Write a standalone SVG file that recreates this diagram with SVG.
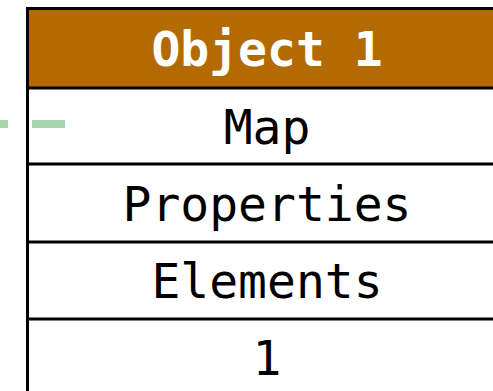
<svg xmlns="http://www.w3.org/2000/svg" width="493" height="391" viewBox="0 0 493 391">
<style>
.t{font-family:"DejaVu Sans Mono","Liberation Mono",monospace;font-size:48px;text-anchor:middle;fill:#000}
.h{font-weight:bold;fill:#fff}
.sep{stroke:#000;stroke-width:3}
</style>
<rect width="493" height="391" fill="#fff"/>
<g id="object1">
<rect x="27.5" y="8.5" width="480" height="400" fill="#fff" stroke="#000" stroke-width="3"/>
<rect x="27.5" y="8.5" width="480" height="79.5" fill="#b36a00" stroke="#000" stroke-width="3"/>
<line class="sep" x1="27.5" y1="164" x2="510" y2="164"/>
<line class="sep" x1="27.5" y1="242" x2="510" y2="242"/>
<line class="sep" x1="27.5" y1="319" x2="510" y2="319"/>
<text class="t h" x="267" y="66">Object 1</text>
<text class="t" x="267" y="143.5">Map</text>
<text class="t" x="267" y="220.5">Properties</text>
<text class="t" x="267" y="298">Elements</text>
<text class="t" x="267" y="375">1</text>
</g>
<g id="connectors">
<path d="M65 124 H-100" stroke="#a6d4ab" stroke-width="8" stroke-dasharray="33 24" fill="none"/>
</g>
</svg>
